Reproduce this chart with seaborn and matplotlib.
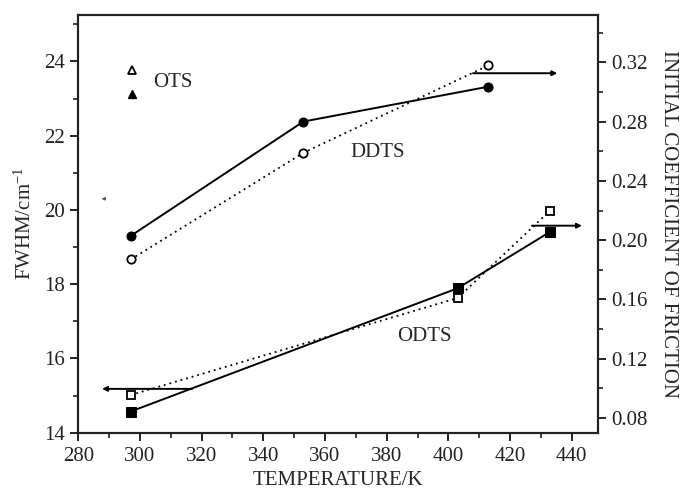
import numpy as np
import pandas as pd
import matplotlib
matplotlib.use("Agg")
import matplotlib.pyplot as plt
from matplotlib.ticker import MultipleLocator, StrMethodFormatter
import seaborn as sns

# Temperatures (K)
ddts_temp = [297, 353, 413]
odts_temp = [297, 403, 433]

# FWHM (cm^-1), filled symbols, left axis
ddts_fwhm = [19.30, 22.38, 23.32]
odts_fwhm = [14.57, 17.89, 19.41]

# Initial coefficient of friction, open symbols, right axis
ddts_friction = [0.187, 0.259, 0.318]
odts_friction = [0.0955, 0.161, 0.220]

# Ticks
x_ticks = [280, 300, 320, 340, 360, 380, 400, 420, 440]
fwhm_ticks = [14, 16, 18, 20, 22, 24]
friction_ticks = [0.08, 0.12, 0.16, 0.20, 0.24, 0.28, 0.32]

sns.set_theme(style="ticks")
plt.rcParams["font.family"] = ["Liberation Serif", "DejaVu Serif"]
plt.rcParams["mathtext.default"] = "regular"
FS = 15

fig = plt.figure(figsize=(6.83, 4.95), dpi=100)
ax = fig.add_axes([0.1146, 0.1259, 0.8755 - 0.1146, 0.9697 - 0.1259])
ax2 = ax.twinx()

ddts_f = pd.DataFrame({"T": ddts_temp, "v": ddts_fwhm})
odts_f = pd.DataFrame({"T": odts_temp, "v": odts_fwhm})
ddts_m = pd.DataFrame({"T": ddts_temp, "v": ddts_friction})
odts_m = pd.DataFrame({"T": odts_temp, "v": odts_friction})

solid = dict(color="black", lw=1.4, linestyle="-")
dotted = dict(color="black", lw=1.3, linestyle=(0, (1, 2.2)))

sns.lineplot(data=ddts_f, x="T", y="v", ax=ax, marker="o", markersize=6.5,
             markerfacecolor="black", markeredgecolor="black", **solid)
sns.lineplot(data=odts_f, x="T", y="v", ax=ax, marker="s", markersize=6.5,
             markerfacecolor="black", markeredgecolor="black", **solid)
sns.lineplot(data=ddts_m, x="T", y="v", ax=ax2, marker="o", markersize=6,
             markerfacecolor="white", markeredgecolor="black", markeredgewidth=1.3,
             **dotted)
sns.lineplot(data=odts_m, x="T", y="v", ax=ax2, marker="s", markersize=6,
             markerfacecolor="white", markeredgecolor="black", markeredgewidth=1.3,
             **dotted)

ax.set_xlim(280, 448.5)
ax.set_ylim(14, 25.25)
ax2.set_ylim(0.0701, 0.352)

ax.set_xticks(x_ticks)
ax.set_yticks(fwhm_ticks)
ax.xaxis.set_minor_locator(MultipleLocator(10))
ax.yaxis.set_minor_locator(MultipleLocator(1))
ax2.set_yticks(friction_ticks)
ax2.yaxis.set_minor_locator(MultipleLocator(0.02))
ax2.yaxis.set_major_formatter(StrMethodFormatter("{x:.2f}"))

for a in (ax, ax2):
    a.tick_params(axis="both", which="major", direction="out", length=6,
                  width=1.4, labelsize=FS, colors="#222222", labelcolor="#222222")
    a.tick_params(axis="both", which="minor", direction="out", length=3.5,
                  width=1.2, colors="#222222")
    for s in a.spines.values():
        s.set_linewidth(1.5)
        s.set_color("#222222")
ax.tick_params(axis="x", pad=4)

ax.set_xlabel("TEMPERATURE/K", fontsize=FS, labelpad=4)
ax.set_ylabel("FWHM/cm$^{-1}$", fontsize=FS, labelpad=6)
ax2.set_ylabel("INITIAL COEFFICIENT OF FRICTION", fontsize=FS, rotation=-90,
               labelpad=22)

# Series labels
ax.text(368.2, 21.54, "DDTS", fontsize=FS, va="center", ha="left")
ax.text(383.5, 16.59, "ODTS", fontsize=FS, va="center", ha="left")

# OTS key (open and filled triangles)
ax.plot([297.3], [23.77], marker="^", markersize=5.5, markerfacecolor="white",
        markeredgecolor="black", markeredgewidth=1.3, linestyle="none")
ax.plot([297.3], [23.12], marker="^", markersize=5.5, markerfacecolor="black",
        markeredgecolor="black", linestyle="none")
ax.text(304.2, 23.42, "OTS", fontsize=FS, va="center", ha="left")

# Arrows showing which axis each curve belongs to
arrow = dict(arrowstyle="-|>", lw=1.4, color="black", mutation_scale=7,
             shrinkA=0, shrinkB=0)
ax2.annotate("", xy=(435.3, 0.3127), xytext=(408.0, 0.3127), arrowprops=arrow)
ax2.annotate("", xy=(443.3, 0.2098), xytext=(427.1, 0.2098), arrowprops=arrow)
ax.annotate("", xy=(287.7, 15.18), xytext=(316.9, 15.18), arrowprops=arrow)
ax.annotate("", xy=(287.5, 20.30), xytext=(288.8, 20.30),
            arrowprops=dict(arrowstyle="-|>", lw=1.0, color="#555555",
                            mutation_scale=4, shrinkA=0, shrinkB=0))

fig.savefig("out.png", dpi=100)
